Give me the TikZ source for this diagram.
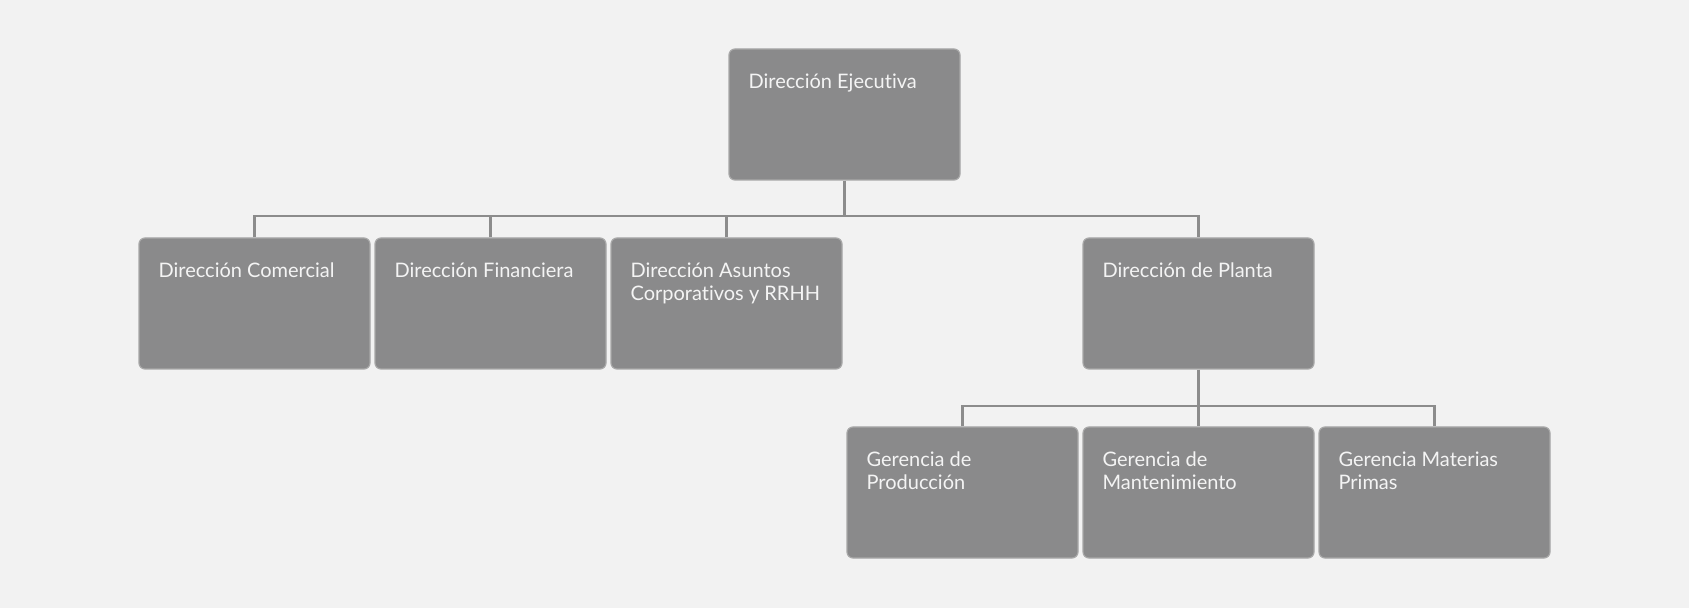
\documentclass[tikz,border=0pt]{standalone}
\usepackage{fontspec}
\setmainfont[Ligatures=NoCommon]{Lato}
\definecolor{bgc}{HTML}{F2F2F2}
\definecolor{boxfill}{HTML}{8A8A8B}
\definecolor{boxdraw}{HTML}{A8A8A8}
\definecolor{linec}{HTML}{8C8C8C}
\definecolor{txtc}{HTML}{F4F4F4}
\begin{document}
\begin{tikzpicture}[x=1pt,y=1pt,
  orgbox/.style={draw=boxdraw, line width=1.2pt, fill=boxfill, rounded corners=6pt,
    minimum width=231pt, minimum height=131pt, inner sep=0pt},
  orgtext/.style={anchor=north west, inner sep=0pt, text=txtc, align=left,
    font=\fontsize{20}{22.5}\selectfont},
  conn/.style={draw=linec, line width=2.6pt}]
\fill[bgc] (0,0) rectangle (1689,608);
\useasboundingbox (0,0) rectangle (1689,608);
% boxes
\node[orgbox] (ej) at (844.5,493.5) {};
\node[orgbox] (com) at (254.5,304.5) {};
\node[orgbox] (fin) at (490.5,304.5) {};
\node[orgbox] (asu) at (726.5,304.5) {};
\node[orgbox] (pla) at (1198.5,304.5) {};
\node[orgbox] (pro) at (962.5,115.5) {};
\node[orgbox] (man) at (1198.5,115.5) {};
\node[orgbox] (mat) at (1434.5,115.5) {};
% texts
\node[orgtext] (tej) at ([xshift=20pt,yshift=-24.6pt]ej.north west) {\strut Dirección Ejecutiva};
\node[orgtext] (tcom) at ([xshift=20pt,yshift=-24.6pt]com.north west) {\strut Dirección Comercial};
\node[orgtext] (tfin) at ([xshift=20pt,yshift=-24.6pt]fin.north west) {\strut Dirección Financiera};
\node[orgtext] (tasu) at ([xshift=20pt,yshift=-24.6pt]asu.north west) {\strut Dirección Asuntos\\Corporativos y RRHH};
\node[orgtext] (tpla) at ([xshift=20pt,yshift=-24.6pt]pla.north west) {\strut Dirección de Planta};
\node[orgtext] (tpro) at ([xshift=20pt,yshift=-24.6pt]pro.north west) {\strut Gerencia de\\Producción};
\node[orgtext] (tman) at ([xshift=20pt,yshift=-24.6pt]man.north west) {\strut Gerencia de\\Mantenimiento};
\node[orgtext] (tmat) at ([xshift=20pt,yshift=-24.6pt]mat.north west) {\strut Gerencia Materias\\Primas};
% connectors
\coordinate (bus1) at (0,392);
\coordinate (bus2) at (0,202);
\draw[conn] (ej.south) -- (ej.south |- bus1);
\draw[conn] (com.north) -- (com.north |- bus1) -- (pla.north |- bus1) -- (pla.north);
\draw[conn] (fin.north) -- (fin.north |- bus1);
\draw[conn] (asu.north) -- (asu.north |- bus1);
\draw[conn] (pla.south) -- (man.north);
\draw[conn] (pro.north) -- (pro.north |- bus2) -- (mat.north |- bus2) -- (mat.north);
\end{tikzpicture}
\end{document}
